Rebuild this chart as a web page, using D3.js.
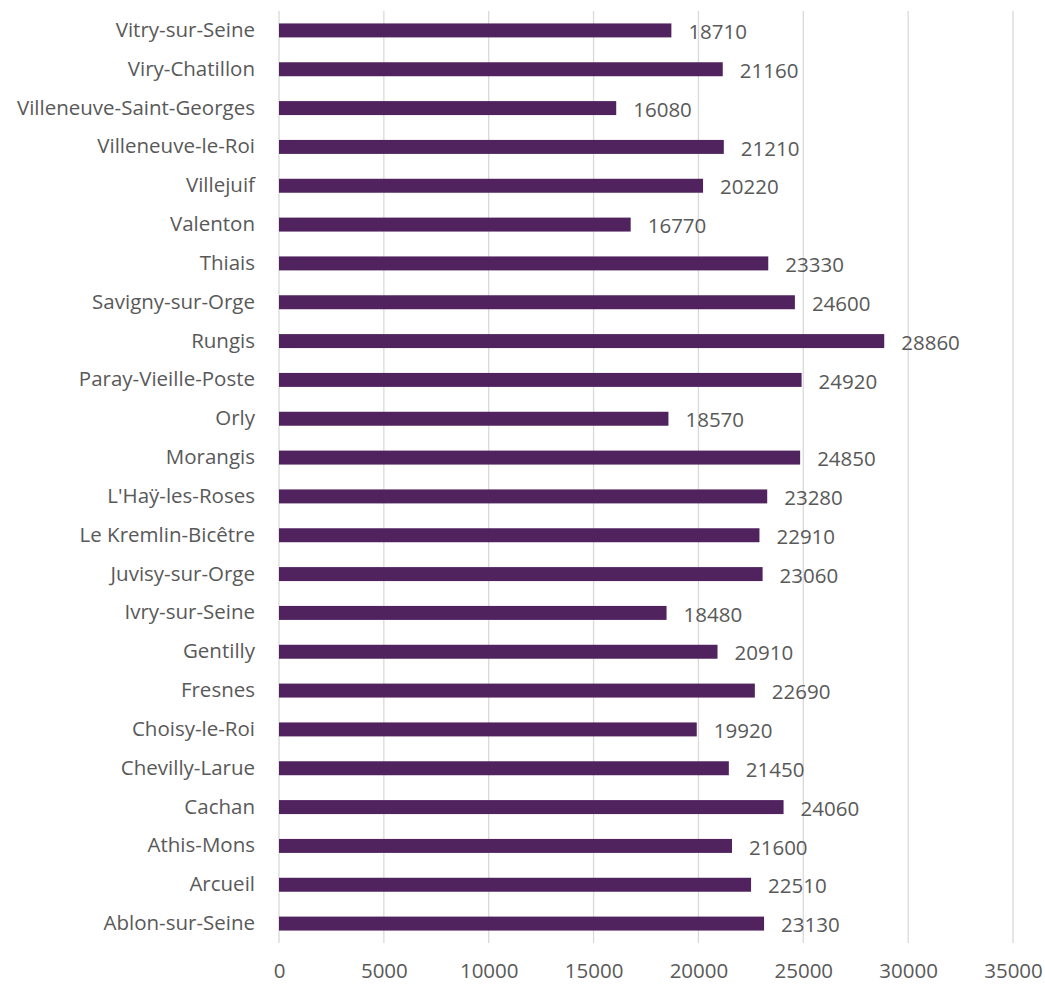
<!DOCTYPE html>
<html>
<head>
<meta charset="utf-8">
<script src="https://cdn.jsdelivr.net/npm/d3@7"></script>
<style>
  body { margin: 0; background: #fff; }
  text { font-family: "Open Sans", "Liberation Sans", sans-serif; fill: #595959; }
</style>
</head>
<body>
<script>
var communes = ["Vitry-sur-Seine", "Viry-Chatillon", "Villeneuve-Saint-Georges", "Villeneuve-le-Roi",
  "Villejuif", "Valenton", "Thiais", "Savigny-sur-Orge", "Rungis", "Paray-Vieille-Poste", "Orly",
  "Morangis", "L'Haÿ-les-Roses", "Le Kremlin-Bicêtre", "Juvisy-sur-Orge", "Ivry-sur-Seine",
  "Gentilly", "Fresnes", "Choisy-le-Roi", "Chevilly-Larue", "Cachan", "Athis-Mons", "Arcueil",
  "Ablon-sur-Seine"];
var valeurs = [18710, 21160, 16080, 21210, 20220, 16770, 23330, 24600, 28860, 24920, 18570,
  24850, 23280, 22910, 23060, 18480, 20910, 22690, 19920, 21450, 24060, 21600, 22510, 23130];
var ticks = [0, 5000, 10000, 15000, 20000, 25000, 30000, 35000];

var width = 1045;
var height = 984;
var plotLeft = 279, plotRight = 1013, plotTop = 11, plotBottom = 943;
var fontSize = "20.5px";

var rows = communes.map(function(c, i) { return { name: c, value: valeurs[i] }; });

var svg = d3.select("body")
  .append("svg")
  .attr("width", width)
  .attr("height", height);

var x = d3.scaleLinear().domain([0, 35000]).range([plotLeft, plotRight]);
var y = d3.scaleBand().domain(communes).range([plotTop, plotBottom]).paddingInner(0.64).paddingOuter(0.32);

// gridlines
svg.selectAll("line.grid")
  .data(ticks)
  .enter()
  .append("line")
  .attr("class", "grid")
  .attr("x1", function(d) { return x(d); })
  .attr("x2", function(d) { return x(d); })
  .attr("y1", plotTop)
  .attr("y2", plotBottom)
  .attr("stroke", "#d9d9d9")
  .attr("stroke-width", 1.3);

// x axis labels
var xAxis = d3.axisBottom(x).tickValues(ticks).tickSize(0).tickPadding(0).tickFormat(d3.format("d"));
var gx = svg.append("g")
  .attr("transform", "translate(0," + (plotBottom + 20) + ")")
  .call(xAxis);
gx.select(".domain").remove();
gx.selectAll("text")
  .attr("dy", "0.71em")
  .style("font-size", fontSize)
  .attr("fill", "#595959");

// y axis labels
var yAxis = d3.axisLeft(y).tickSize(0).tickPadding(24);
var gy = svg.append("g")
  .attr("transform", "translate(" + plotLeft + ",0)")
  .call(yAxis);
gy.select(".domain").remove();
gy.selectAll("text")
  .style("font-size", fontSize)
  .attr("fill", "#595959");

// bars
svg.selectAll("rect.bar")
  .data(rows)
  .enter()
  .append("rect")
  .attr("class", "bar")
  .attr("x", x(0))
  .attr("y", function(d) { return y(d.name); })
  .attr("width", function(d) { return x(d.value) - x(0); })
  .attr("height", y.bandwidth())
  .attr("fill", "#50235f");

// value labels
svg.selectAll("text.val")
  .data(rows)
  .enter()
  .append("text")
  .attr("class", "val")
  .attr("x", function(d) { return x(d.value) + 17; })
  .attr("y", function(d) { return y(d.name) + y.bandwidth() / 2 + 1.5; })
  .attr("dy", "0.35em")
  .style("font-size", fontSize)
  .text(function(d) { return d.value; });
</script>
</body>
</html>
